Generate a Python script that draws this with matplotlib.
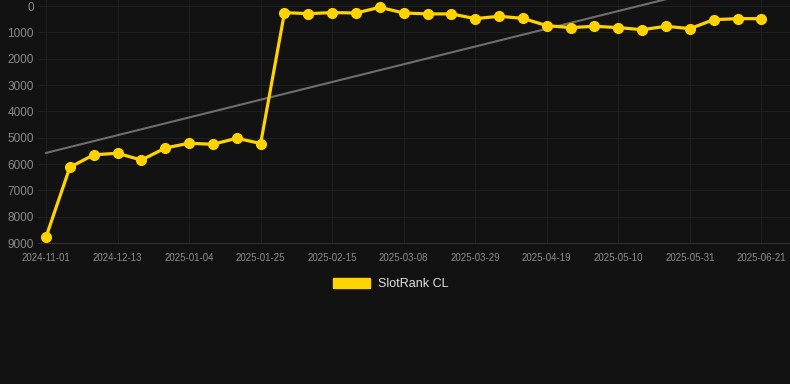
import numpy as np
import matplotlib
matplotlib.use("Agg")
import matplotlib.pyplot as plt
from matplotlib.patches import Patch

plt.rcParams["font.family"] = ["Liberation Sans", "DejaVu Sans"]

# weekly snapshots, only every 3rd label is shown on the axis
dates = ["2024-11-01", "2024-11-15", "2024-11-29", "2024-12-13", "2024-12-20",
         "2024-12-27", "2025-01-04", "2025-01-11", "2025-01-18", "2025-01-25",
         "2025-02-01", "2025-02-08", "2025-02-15", "2025-02-22", "2025-03-01",
         "2025-03-08", "2025-03-15", "2025-03-22", "2025-03-29", "2025-04-05",
         "2025-04-12", "2025-04-19", "2025-04-26", "2025-05-03", "2025-05-10",
         "2025-05-17", "2025-05-24", "2025-05-31", "2025-06-07", "2025-06-14",
         "2025-06-21"]
rank = [8770, 6120, 5650, 5590, 5850, 5390, 5210, 5250, 5020, 5220,
        250, 290, 250, 265, 50, 265, 300, 300, 480, 390,
        470, 745, 820, 770, 820, 900, 770, 860, 520, 480,
        480]
y_ticks = [0, 1000, 2000, 3000, 4000, 5000, 6000, 7000, 8000, 9000]

BG = "#121212"
GOLD = "#FFD300"
TXT = "#8a8a8a"
GRID = "#1f1f1f"

fig = plt.figure(figsize=(7.9, 3.84), dpi=100, facecolor=BG)
ax = fig.add_axes([0.048, 0.367, 0.952, 0.633], facecolor=BG)

idx = np.arange(len(rank))

# linear trend through the series
k, b = np.polyfit(idx, rank, 1)
ax.plot(idx, k * idx + b, color="#6e6e6e", lw=1.5, zorder=2)

ax.plot(idx, rank, color=GOLD, lw=2.3, marker="o", markersize=7, zorder=3)

ax.set_xlim(-0.34, 31.2)
ax.set_ylim(9000, -228)
ax.set_yticks(y_ticks)
ax.set_yticklabels([str(t) for t in y_ticks])
ax.set_xticks(idx[::3])
ax.set_xticklabels(dates[::3])

ax.grid(True, color=GRID, lw=0.8)
ax.set_axisbelow(True)
for side in ["top", "right", "left"]:
    ax.spines[side].set_visible(False)
ax.spines["bottom"].set_color("#2e2e2e")
ax.tick_params(axis="both", length=0, colors=TXT)
ax.tick_params(axis="y", labelsize=8.5, pad=3)
ax.tick_params(axis="x", labelsize=7, pad=7)

leg = fig.legend(handles=[Patch(facecolor=GOLD, edgecolor=GOLD, label="SlotRank CL")],
                 loc="center", bbox_to_anchor=(0.494, 0.26), frameon=False,
                 handlelength=3.0, handleheight=0.9, handletextpad=0.6, fontsize=9)
for t in leg.get_texts():
    t.set_color("#e0e0e0")

fig.savefig("out.png", facecolor=BG)
